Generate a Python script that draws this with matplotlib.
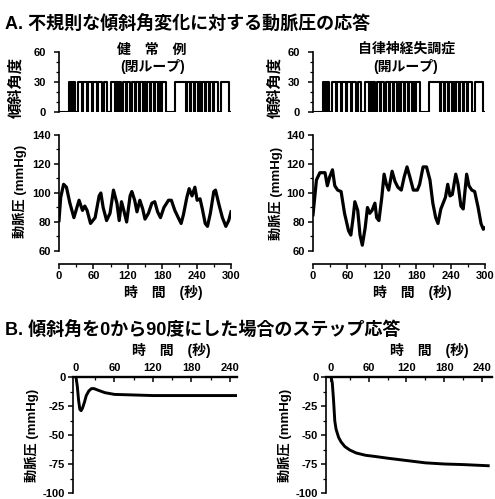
import numpy as np
import matplotlib
matplotlib.use('Agg')
import matplotlib.pyplot as plt
from matplotlib.ticker import MultipleLocator

plt.rcParams['font.family'] = ['Liberation Sans', 'Noto Sans CJK JP']
plt.rcParams['font.weight'] = 'bold'
plt.rcParams['axes.unicode_minus'] = False

# 傾斜角の切り替え時刻 (秒)、0度から始まり 0 <-> 30 度を交互に切り替える
tilt_edges = [18, 20, 21, 23, 24, 26, 27, 28, 33, 40, 42, 49, 51, 57, 60, 66,
              68, 75, 78, 84, 90, 97, 99, 103, 105, 109, 111, 116, 118, 124,
              127, 133, 135, 140, 142, 146, 148, 152, 154, 158, 160, 165,
              167, 172, 174, 178, 180, 186, 203, 221, 224, 229, 231, 236,
              238, 242, 244, 248, 250, 255, 257, 262, 264, 269, 271, 277,
              283, 297]
tilt_high = 30

# 健常例 (閉ループ) の動脈圧
bp_normal_t = [0, 3, 8, 13, 19, 26, 35, 41, 45, 49, 55, 63, 70, 73, 77, 83, 89,
               95, 101, 105, 109, 113, 118, 124, 127, 132, 136, 141, 146, 150,
               156, 162, 167, 172, 177, 183, 191, 196, 202, 208, 213, 217, 223,
               227, 232, 237, 241, 246, 250, 255, 259, 264, 270, 273, 279, 285,
               291, 296, 300]
bp_normal = [81, 97, 106, 104, 93, 83, 95, 88, 91, 88, 79, 83, 98, 100, 90, 81,
             86, 102, 93, 81, 94, 88, 80, 98, 101, 95, 87, 95, 89, 82, 86, 93,
             94, 87, 83, 90, 95, 95, 88, 83, 79, 85, 97, 103, 98, 104, 95, 96,
             89, 79, 77, 86, 101, 102, 92, 83, 77, 81, 87]

# 自律神経失調症 (開ループ) の動脈圧
bp_failure_t = [0, 6, 12, 21, 25, 29, 34, 38, 43, 49, 55, 62, 66, 70, 73, 78,
                82, 86, 91, 95, 99, 103, 108, 111, 115, 120, 124, 128, 132,
                138, 143, 148, 154, 159, 164, 169, 175, 182, 186, 192, 198,
                204, 209, 214, 218, 223, 227, 231, 235, 239, 243, 249, 253,
                258, 262, 268, 272, 277, 282, 288, 293, 297, 300]
bp_failure = [85, 109, 114, 114, 105, 111, 116, 105, 102, 101, 86, 74, 71, 83,
              94, 88, 71, 64, 76, 90, 86, 88, 93, 83, 81, 97, 113, 106, 102,
              115, 108, 104, 102, 111, 118, 111, 102, 102, 106, 118, 118, 109,
              93, 83, 79, 89, 93, 97, 106, 98, 99, 113, 106, 91, 89, 113, 105,
              102, 101, 90, 79, 75, 76]

# 0 -> 90 度へのステップ応答
step_normal_t = [0, 2, 4, 6, 8, 10, 13, 16, 20, 24, 28, 35, 45, 60, 90, 120,
                 180, 250]
step_normal = [0, -8, -20, -28, -29, -27, -22, -16, -12, -10, -10, -11.5,
               -13.5, -15, -15.5, -16, -16, -16]
step_failure_t = [0, 2, 4, 6, 8, 12, 16, 22, 30, 40, 55, 70, 90, 120, 150,
                  180, 210, 250]
step_failure = [0, -5, -20, -38, -45, -52, -56, -60, -63, -65.5, -67.5,
                -68.5, -70, -72, -74, -75, -75.5, -76.5]

W, H = 495, 499
fig = plt.figure(figsize=(W / 100, H / 100), dpi=100)


def px_axes(left, top, right, bottom):
    return fig.add_axes([left / W, 1 - bottom / H, (right - left) / W,
                         (bottom - top) / H])


def px_text(x, y, s, **kw):
    fig.text(x / W, 1 - y / H, s, **kw)


def style_axis(ax):
    for side in ['top', 'right', 'bottom']:
        ax.spines[side].set_visible(False)
    for sp in ax.spines.values():
        sp.set_linewidth(1.2)
    ax.tick_params(which='major', length=3.5, width=1.1, labelsize=8, pad=2)
    ax.tick_params(which='minor', length=2, width=0.9)
    ax.patch.set_alpha(0)


def tilt_panel(ax):
    times = [0] + tilt_edges + [300]
    levels = [0 if i % 2 == 0 else tilt_high for i in range(len(tilt_edges) + 1)]
    ax.step(times, levels + [levels[-1]], where='post', color='black', lw=1.5)
    ax.set_xlim(0, 300)
    ax.set_ylim(0, 60)
    style_axis(ax)
    ax.set_yticks([0, 30, 60])
    ax.yaxis.set_minor_locator(MultipleLocator(10))
    ax.set_xticks([])
    ax.tick_params(axis='y', which='major', pad=6)


def bp_panel(ax, t, v):
    ax.plot(t, v, color='black', lw=2.3, solid_joinstyle='round')
    ax.set_xlim(0, 300)
    ax.set_ylim(60, 140)
    style_axis(ax)
    ax.spines['bottom'].set_visible(True)
    ax.spines['bottom'].set_position(('outward', 9))
    ax.set_xticks(range(0, 301, 60))
    ax.xaxis.set_minor_locator(MultipleLocator(30))
    ax.set_yticks(range(60, 141, 20))
    ax.yaxis.set_minor_locator(MultipleLocator(10))


def step_panel(ax, t, v, xlim):
    ax.plot(t, v, color='black', lw=2.1)
    ax.set_xlim(*xlim)
    ax.set_ylim(-100, 0)
    style_axis(ax)
    ax.spines['top'].set_visible(True)
    ax.spines['top'].set_linewidth(1.7)
    ax.xaxis.tick_top()
    ax.set_xticks(range(0, 241, 60))
    ax.xaxis.set_minor_locator(MultipleLocator(30))
    ax.tick_params(axis='x', which='both', direction='in', pad=3)
    ax.set_yticks([0, -25, -50, -75, -100])
    ax.yaxis.set_minor_locator(MultipleLocator(12.5))


# A. 不規則な傾斜角変化
ax1 = px_axes(59, 52, 231, 112)
tilt_panel(ax1)
ax2 = px_axes(313, 52, 485, 112)
tilt_panel(ax2)

ax3 = px_axes(59, 135, 231, 251)
bp_panel(ax3, bp_normal_t, bp_normal)
ax4 = px_axes(313, 135, 485, 251)
bp_panel(ax4, bp_failure_t, bp_failure)

# B. ステップ応答
ax5 = px_axes(73, 377, 237, 493)
step_panel(ax5, step_normal_t, step_normal, (-4.7, 251))
ax6 = px_axes(326, 377, 492, 493)
step_panel(ax6, step_failure_t, step_failure, (-8, 256))

px_text(5, 24, 'A. 不規則な傾斜角変化に対する動脈圧の応答', fontsize=13,
        va='center', ha='left')
px_text(5, 330, 'B. 傾斜角を0から90度にした場合のステップ応答', fontsize=13,
        va='center', ha='left')

px_text(152, 50, '健　常　例', fontsize=10, ha='center', va='center')
px_text(153, 67, '(閉ループ)', fontsize=10, ha='center', va='center')
px_text(407, 49, '自律神経失調症', fontsize=10, ha='center', va='center')
px_text(406, 66, '(開ループ)', fontsize=10, ha='center', va='center')

for x in (16, 275):
    px_text(x, 87, '傾斜角度', fontsize=11, rotation=90, ha='center', va='center')
for x, y in ((20, 191), (276, 193), (32, 435), (285, 435)):
    px_text(x, y, '動脈圧 (mmHg)', fontsize=9.5, rotation=90, ha='center', va='center')

for x, y in ((163, 293), (412, 293), (171, 350), (429, 350)):
    px_text(x, y, '時　間　(秒)', fontsize=10, ha='center', va='center')

fig.savefig('out.png', dpi=100)
